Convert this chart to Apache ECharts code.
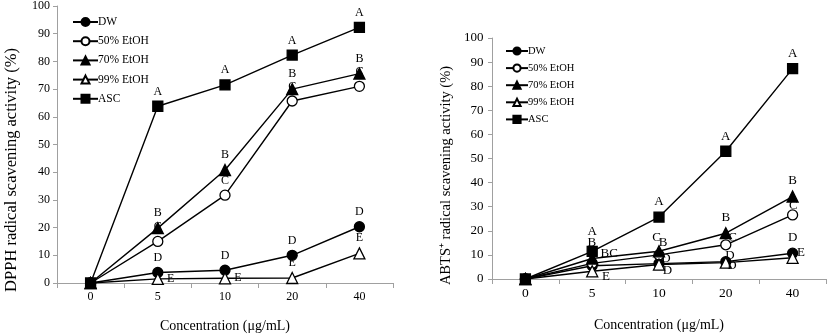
<!DOCTYPE html>
<html>
<head>
<meta charset="utf-8">
<script src="https://cdn.jsdelivr.net/npm/echarts@6/dist/echarts.min.js"></script>
<style>html,body{margin:0;padding:0;background:#fff}#c{width:827px;height:334px}</style>
</head>
<body>
<div id="c"></div>
<script>
// ---- data ----
const categories = ['0', '5', '10', '20', '40'];
const seriesNames = ['DW', '50% EtOH', '70% EtOH', '99% EtOH', 'ASC'];

// DPPH (left panel)
const dpphDW   = [0, 3.8, 4.6, 10.0, 20.3];
const dpph50   = [0, 15.0, 31.7, 65.7, 71.0];
const dpph70   = [0, 19.8, 40.8, 70.0, 75.6];
const dpph99   = [0, 1.5, 1.7, 1.8, 10.7];
const dpphASC  = [0, 63.8, 71.5, 82.3, 92.3];
const dpphLetDW  = ['', 'D', 'D', 'D', 'D'];
const dpphLet50  = ['', 'C', 'C', 'C', 'C'];
const dpphLet70  = ['', 'B', 'B', 'B', 'B'];
const dpphLet99  = ['', 'E', 'E', 'E', 'E'];
const dpphLetASC = ['', 'A', 'A', 'A', 'A'];

// ABTS (right panel)
const abtsDW   = [0, 5.5, 6.4, 7.2, 10.7];
const abts50   = [0, 6.5, 10.0, 14.2, 26.6];
const abts70   = [0, 8.5, 11.5, 19.0, 34.2];
const abts99   = [0, 3.2, 6.0, 6.8, 8.8];
const abtsASC  = [0, 11.5, 25.7, 53.0, 87.3];
const abtsLetDW  = ['', '', 'D', 'D', 'D'];
const abtsLet50  = ['', 'BC', 'C', 'C', 'C'];
const abtsLet70  = ['', 'B', 'B', 'B', 'B'];
const abtsLet99  = ['', 'E', 'D', 'D', 'E'];
const abtsLetASC = ['', 'A', 'A', 'A', 'A'];

const yTicks = [0, 10, 20, 30, 40, 50, 60, 70, 80, 90, 100];
const xTitle = 'Concentration (μg/mL)';
const yTitleLeft = 'DPPH radical scavening activity (%)';
const yTitleRight = 'ABTS⁺ radical scavening activity (%)';

// ---- styles ----
const FONT = 'Liberation Serif';
const symbols = {
  'DW': {symbol: 'circle', fill: '#000', size: 10},
  '50% EtOH': {symbol: 'circle', fill: '#fff', size: 10},
  '70% EtOH': {symbol: 'triangle', fill: '#000', size: 11},
  '99% EtOH': {symbol: 'triangle', fill: '#fff', size: 11},
  'ASC': {symbol: 'rect', fill: '#000', size: 10}
};
// label placement per panel/series/point (style only)
const posMap = {
  left: {
    'DW': ['top','top','top','top','top'],
    '50% EtOH': ['top','top','top','top','top'],
    '70% EtOH': ['top','top','top','top','top'],
    '99% EtOH': ['right','right','right','top','top'],
    'ASC': ['top','top','top','top','top']
  },
  right: {
    'DW': ['top','right',[8,-6],[5,-7],'top'],
    '50% EtOH': ['top',[14,-11],[-1,-18],[8,-8],[2,-10]],
    '70% EtOH': ['top',[1.5,-16.5],[6,-9],'top','top'],
    '99% EtOH': ['top',[16,5],[10,6],[7.5,3],[10.5,-6]],
    'ASC': ['top',[1,-21],'top','top','top']
  }
};

function buildSeries(panel, idx, name, values, letters, fs) {
  const s = symbols[name];
  const data = values.map((v, i) => {
    const p = posMap[panel][name][i];
    return {
      value: v,
      label: {
        show: letters[i] !== '',
        formatter: letters[i],
        position: p,
        distance: 3
      }
    };
  });
  return {
    name: name,
    type: 'line',
    xAxisIndex: idx, yAxisIndex: idx,
    data: data,
    symbol: s.symbol,
    symbolSize: s.size,
    showAllSymbol: true,
    lineStyle: {color: '#000', width: 1.4},
    itemStyle: {color: s.fill, borderColor: '#000', borderWidth: 1.3},
    label: {fontFamily: FONT, fontSize: fs, color: '#000'},
    emphasis: {disabled: true},
    animation: false,
    z: name === 'ASC' ? 5 : 3
  };
}

const axisLine = {show: true, lineStyle: {color: '#a0a0a0', width: 1}};
function xAxis(idx, nameGap, fs, margin) {
  return {
    type: 'category', gridIndex: idx, data: categories, boundaryGap: true,
    axisLine: axisLine,
    axisTick: {show: true, length: 5, lineStyle: {color: '#a0a0a0'}},
    axisLabel: {fontFamily: FONT, fontSize: fs, color: '#000', margin: margin},
    name: xTitle, nameLocation: 'middle', nameGap: nameGap,
    nameTextStyle: {fontFamily: FONT, fontSize: 14, color: '#000'},
    splitLine: {show: false}
  };
}
function yAxis(idx, fs, margin) {
  return {
    type: 'value', gridIndex: idx, min: yTicks[0], max: yTicks[yTicks.length - 1], interval: yTicks[1] - yTicks[0],
    axisLine: axisLine,
    axisTick: {show: true, length: 4, lineStyle: {color: '#a0a0a0'}},
    axisLabel: {fontFamily: FONT, fontSize: fs, color: '#000', margin: margin},
    splitLine: {show: false}
  };
}

const chart = echarts.init(document.getElementById('c'), null, {renderer: 'canvas'});
chart.setOption({
  animation: false,
  backgroundColor: '#fff',
  grid: [
    {left: 57, top: 6, width: 336, bottom: 51, containLabel: false, outerBoundsMode: 'none'},
    {left: 492, top: 38, width: 334, bottom: 55, containLabel: false, outerBoundsMode: 'none'}
  ],
  legend: [
    {
      data: seriesNames, orient: 'vertical', left: 72, top: 15, itemGap: 5.2, padding: 0,
      itemWidth: 25, itemHeight: 10,
      textStyle: {fontFamily: FONT, fontSize: 11.5, lineHeight: 14, color: '#000', padding: [0, 0, 0, -5]},
      selectedMode: false
    },
    {
      data: seriesNames, orient: 'vertical', left: 505, top: 45, itemGap: 5.1, padding: 0,
      itemWidth: 22, itemHeight: 9,
      textStyle: {fontFamily: FONT, fontSize: 10.5, lineHeight: 12, color: '#000', padding: [0, 0, 0, -5]},
      selectedMode: false
    }
  ],
  graphic: [
    {type: 'text', x: 12, y: 170, rotation: Math.PI / 2, silent: true,
     style: {text: yTitleLeft, fontFamily: FONT, fontSize: 16.5, fill: '#000', align: 'center', verticalAlign: 'middle'}},
    {type: 'text', x: 446, y: 175.5, rotation: Math.PI / 2, silent: true,
     style: {text: yTitleRight, fontFamily: FONT, fontSize: 14.5, fill: '#000', align: 'center', verticalAlign: 'middle'}}
  ],
  xAxis: [xAxis(0, 36, 12, 8), xAxis(1, 39, 13.5, 7)],
  yAxis: [yAxis(0, 12, 7), yAxis(1, 13, 8.5)],
  series: [
    buildSeries('left', 0, 'DW', dpphDW, dpphLetDW, 12),
    buildSeries('left', 0, '50% EtOH', dpph50, dpphLet50, 12),
    buildSeries('left', 0, '70% EtOH', dpph70, dpphLet70, 12),
    buildSeries('left', 0, '99% EtOH', dpph99, dpphLet99, 12),
    buildSeries('left', 0, 'ASC', dpphASC, dpphLetASC, 12),
    buildSeries('right', 1, 'DW', abtsDW, abtsLetDW, 13),
    buildSeries('right', 1, '50% EtOH', abts50, abtsLet50, 13),
    buildSeries('right', 1, '70% EtOH', abts70, abtsLet70, 13),
    buildSeries('right', 1, '99% EtOH', abts99, abtsLet99, 13),
    buildSeries('right', 1, 'ASC', abtsASC, abtsLetASC, 13)
  ]
});
</script>
</body>
</html>
